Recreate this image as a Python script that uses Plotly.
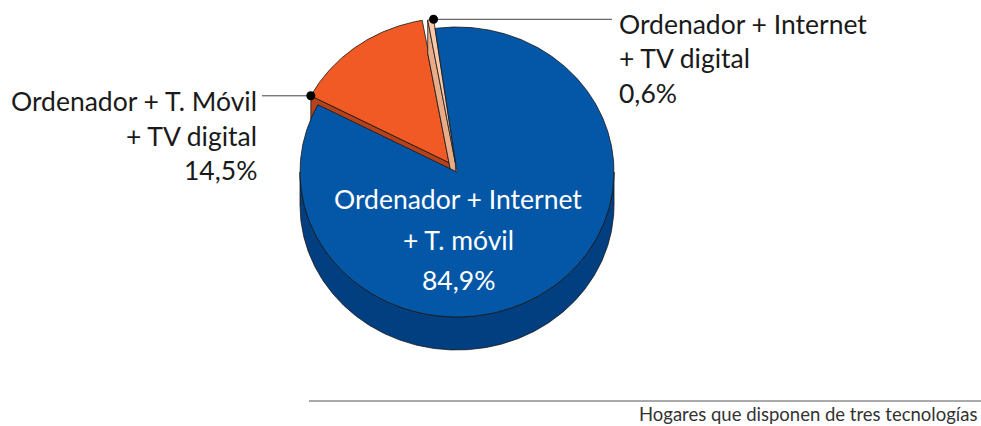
import numpy as np
import plotly.graph_objects as go

# ---- data ----
categories = ["Ordenador + Internet + T. móvil",
              "Ordenador + T. Móvil + TV digital",
              "Ordenador + Internet + TV digital"]
values = [84.9, 14.5, 0.6]
value_labels = ["84,9%", "14,5%", "0,6%"]
footer = "Hogares que disponen de tres tecnologías"

# ---- style / geometry (pixel space) ----
W, H = 981, 426
CX, CY = 457, 172
RX, RY = 157, 145
DEPTH = 33
START = 352.0
EXPLODE = [0, 12, 10]
TOP_COLORS = ["#0457a7", "#f15a24", "#fcc8a8"]
SIDE_COLORS = ["#023f80", "#b4421a", "#e9ac88"]
EDGE = "#161616"
FONT = "Lato"
FS = 26.5

total = sum(values)
bounds = START + 360.0 * np.concatenate([[0], np.cumsum(values)]) / total


def ell(theta, ox, oy, dy=0.0):
    t = np.radians(theta)
    return CX + ox + RX * np.sin(t), CY + oy + dy - RY * np.cos(t)


def arc(s, e, ox, oy, dy=0.0):
    n = max(2, int(abs(e - s) * 2))
    th = np.linspace(s, e, n)
    return ell(th, ox, oy, dy)


fig = go.Figure()


def poly(xs, ys, color):
    xs = list(xs) + [xs[0]]
    ys = list(ys) + [ys[0]]
    fig.add_trace(go.Scatter(x=xs, y=ys, mode="lines", fill="toself",
                             fillcolor=color, line=dict(color=EDGE, width=0.8),
                             hoverinfo="skip", showlegend=False))


geo = {}
for i in [1, 2, 0]:
    s, e = bounds[i], bounds[i + 1]
    mid = np.radians((s + e) / 2)
    ox = EXPLODE[i] * np.sin(mid)
    oy = -EXPLODE[i] * np.cos(mid) * RY / RX
    ax, ay = CX + ox, CY + oy
    if EXPLODE[i] > 0:
        # bottom face
        bx, by = arc(s, e, ox, oy, DEPTH)
        poly([ax] + list(bx), [ay + DEPTH] + list(by), SIDE_COLORS[i])
        # radial faces
        if np.cos(np.radians(s - 90)) < 0:
            px, py = ell(s, ox, oy)
            poly([ax, px, px, ax], [ay, py, py + DEPTH, ay + DEPTH], SIDE_COLORS[i])
        if np.cos(np.radians(e + 90)) < 0:
            px, py = ell(e, ox, oy)
            poly([ax, px, px, ax], [ay, py, py + DEPTH, ay + DEPTH], SIDE_COLORS[i])
    # outer wall (front half)
    for k in range(-1, 3):
        lo, hi = max(s, 90 + 360 * k), min(e, 270 + 360 * k)
        if hi > lo:
            tx, ty = arc(lo, hi, ox, oy)
            ux, uy = arc(hi, lo, ox, oy, DEPTH)
            poly(list(tx) + list(ux), list(ty) + list(uy), SIDE_COLORS[i])
    # top face
    tx, ty = arc(s, e, ox, oy)
    poly([ax] + list(tx), [ay] + list(ty), TOP_COLORS[i])
    geo[i] = (s, e, ox, oy)

# leader points
s1, e1, ox1, oy1 = geo[1]
d1x, d1y = ell(s1, ox1, oy1)
s2, e2, ox2, oy2 = geo[2]
d2x, d2y = ell(e2, ox2, oy2)

fig.add_trace(go.Scatter(x=[262, d1x], y=[d1y, d1y], mode="lines",
                         line=dict(color="#444", width=1), hoverinfo="skip", showlegend=False))
fig.add_trace(go.Scatter(x=[d2x, 612], y=[d2y, d2y], mode="lines",
                         line=dict(color="#444", width=1), hoverinfo="skip", showlegend=False))
fig.add_trace(go.Scatter(x=[d1x, d2x], y=[d1y, d2y], mode="markers",
                         marker=dict(color="black", size=9), hoverinfo="skip", showlegend=False))

ann = []


def txt(x, y, t, anchor, color="#1a1a1a", size=FS):
    ann.append(dict(x=x, y=y, xref="x", yref="y", text=t, showarrow=False,
                    xanchor=anchor, yanchor="middle",
                    font=dict(family=FONT, size=size, color=color)))


# left label (orange)
ly = d1y + 5
txt(259, ly, "Ordenador + T. Móvil", "right")
txt(259, ly + 35, "+ TV digital", "right")
txt(259, ly + 69, value_labels[1], "right")
# right label (peach)
txt(617, 24, "Ordenador + Internet", "left")
txt(617, 58, "+ TV digital", "left")
txt(617, 93, value_labels[2], "left")
# inner label (blue)
txt(CX + 1, 199, "Ordenador + Internet", "center", "white")
txt(CX + 1, 240, "+ T. móvil", "center", "white")
txt(CX + 1, 280, value_labels[0], "center", "white")
# footer
ann.append(dict(x=979, y=414, xref="x", yref="y", text=footer, showarrow=False,
                xanchor="right", yanchor="middle",
                font=dict(family=FONT, size=18.5, color="#333")))

fig.update_layout(
    width=W, height=H, margin=dict(l=0, r=0, t=0, b=0),
    paper_bgcolor="white", plot_bgcolor="white",
    xaxis=dict(range=[0, W], visible=False, fixedrange=True),
    yaxis=dict(range=[H, 0], visible=False, fixedrange=True),
    annotations=ann,
    shapes=[dict(type="line", xref="x", yref="y", x0=309, x1=981, y0=401, y1=401,
                 line=dict(color="#555", width=1))],
)
fig.write_html("out.html", config={"displayModeBar": False},
               post_script="document.body.style.margin='0';document.body.style.overflow='hidden';")
